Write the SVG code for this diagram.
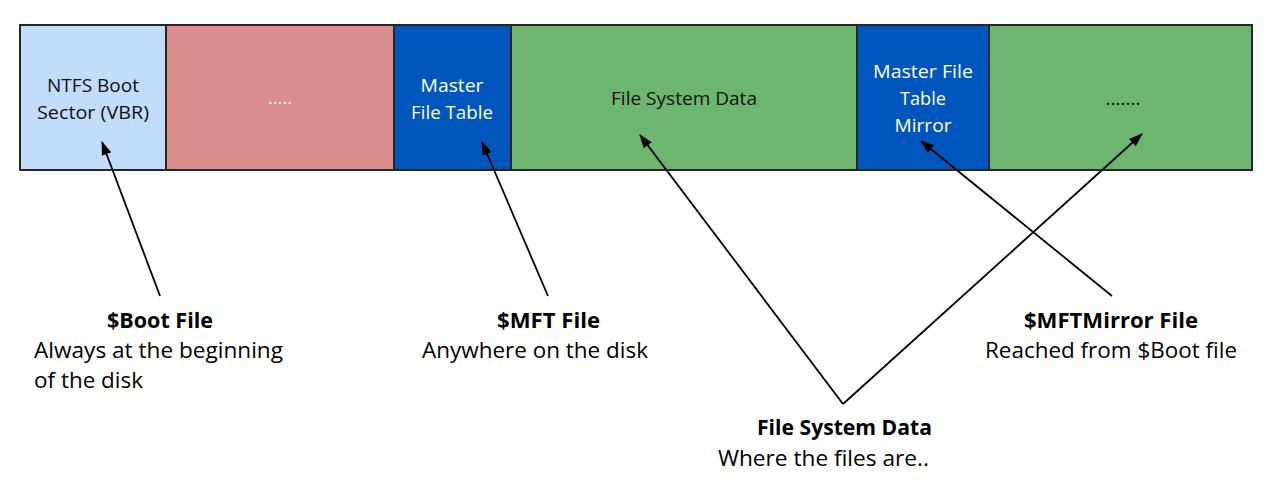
<svg xmlns="http://www.w3.org/2000/svg" width="1281" height="490" viewBox="0 0 1281 490">
<style>
  .seg { stroke: #262626; stroke-width: 2; }
  .lbl { font-family: "Open Sans", "Liberation Sans", sans-serif; font-size: 19px; text-anchor: middle; }
  .dark { fill: #111111; }
  .white { fill: #ffffff; }
  .cap { font-family: "Open Sans", "Liberation Sans", sans-serif; font-size: 22px; fill: #000000; }
  .b { font-weight: bold; }
  .conn { stroke: #000000; stroke-width: 1.8; fill: none; }
</style>
<defs>
  <marker id="ah2" viewBox="0 0 14 10" refX="13" refY="5" markerWidth="14" markerHeight="10" markerUnits="userSpaceOnUse" orient="auto">
    <path d="M0,0 L14,5 L0,10 Z" fill="#000000"/>
  </marker>
</defs>
<rect width="1281" height="490" fill="#ffffff"/>

<g id="node-boot">
  <rect class="seg" x="20" y="25" width="146" height="145" fill="#C2DCFB"/>
  <text class="lbl dark" x="93" y="92" textLength="92" lengthAdjust="spacingAndGlyphs">NTFS Boot</text>
  <text class="lbl dark" x="93" y="119" textLength="112" lengthAdjust="spacingAndGlyphs">Sector (VBR)</text>
</g>
<g id="node-gap">
  <rect class="seg" x="166" y="25" width="228" height="145" fill="#DC8E8E"/>
  <text class="lbl white" x="280" y="104" textLength="24" lengthAdjust="spacingAndGlyphs">.....</text>
</g>
<g id="node-mft">
  <rect class="seg" x="394" y="25" width="117" height="145" fill="#0056BC"/>
  <text class="lbl white" x="452" y="92" textLength="63" lengthAdjust="spacingAndGlyphs">Master</text>
  <text class="lbl white" x="452" y="119" textLength="82" lengthAdjust="spacingAndGlyphs">File Table</text>
</g>
<g id="node-fsdata">
  <rect class="seg" x="511" y="25" width="346" height="145" fill="#6CB66F"/>
  <text class="lbl dark" x="684" y="105" textLength="146" lengthAdjust="spacingAndGlyphs">File System Data</text>
</g>
<g id="node-mirror">
  <rect class="seg" x="857" y="25" width="132" height="145" fill="#0056BC"/>
  <text class="lbl white" x="923" y="78" textLength="100" lengthAdjust="spacingAndGlyphs">Master File</text>
  <text class="lbl white" x="923" y="105" textLength="46" lengthAdjust="spacingAndGlyphs">Table</text>
  <text class="lbl white" x="923" y="132" textLength="57" lengthAdjust="spacingAndGlyphs">Mirror</text>
</g>
<g id="node-rest">
  <rect class="seg" x="989" y="25" width="263" height="145" fill="#6CB66F"/>
  <text class="lbl dark" x="1123" y="105" textLength="35" lengthAdjust="spacingAndGlyphs">…….</text>
</g>

<g id="connectors">
  <line class="conn" x1="160" y1="296" x2="102" y2="142" marker-end="url(#ah2)"/>
  <line class="conn" x1="548" y1="296" x2="482" y2="142" marker-end="url(#ah2)"/>
  <line class="conn" x1="843" y1="404" x2="640" y2="135" marker-end="url(#ah2)"/>
  <line class="conn" x1="843" y1="404" x2="1142" y2="134" marker-end="url(#ah2)"/>
  <line class="conn" x1="1112" y1="296" x2="921" y2="141" marker-end="url(#ah2)"/>
</g>

<g id="label-boot">
  <text class="cap b" x="107" y="328" textLength="106" lengthAdjust="spacingAndGlyphs">$Boot File</text>
  <text class="cap" x="34" y="358" textLength="249" lengthAdjust="spacingAndGlyphs">Always at the beginning</text>
  <text class="cap" x="34" y="388" textLength="109" lengthAdjust="spacingAndGlyphs">of the disk</text>
</g>
<g id="label-mft">
  <text class="cap b" x="497" y="328" textLength="103" lengthAdjust="spacingAndGlyphs">$MFT File</text>
  <text class="cap" x="422" y="358" textLength="226" lengthAdjust="spacingAndGlyphs">Anywhere on the disk</text>
</g>
<g id="label-mirror">
  <text class="cap b" x="1024" y="328" textLength="174" lengthAdjust="spacingAndGlyphs">$MFTMirror File</text>
  <text class="cap" x="985" y="358" textLength="252" lengthAdjust="spacingAndGlyphs">Reached from $Boot file</text>
</g>
<g id="label-fsdata">
  <text class="cap b" x="757" y="435" textLength="175" lengthAdjust="spacingAndGlyphs">File System Data</text>
  <text class="cap" x="718" y="466" textLength="211" lengthAdjust="spacingAndGlyphs">Where the files are..</text>
</g>
</svg>
